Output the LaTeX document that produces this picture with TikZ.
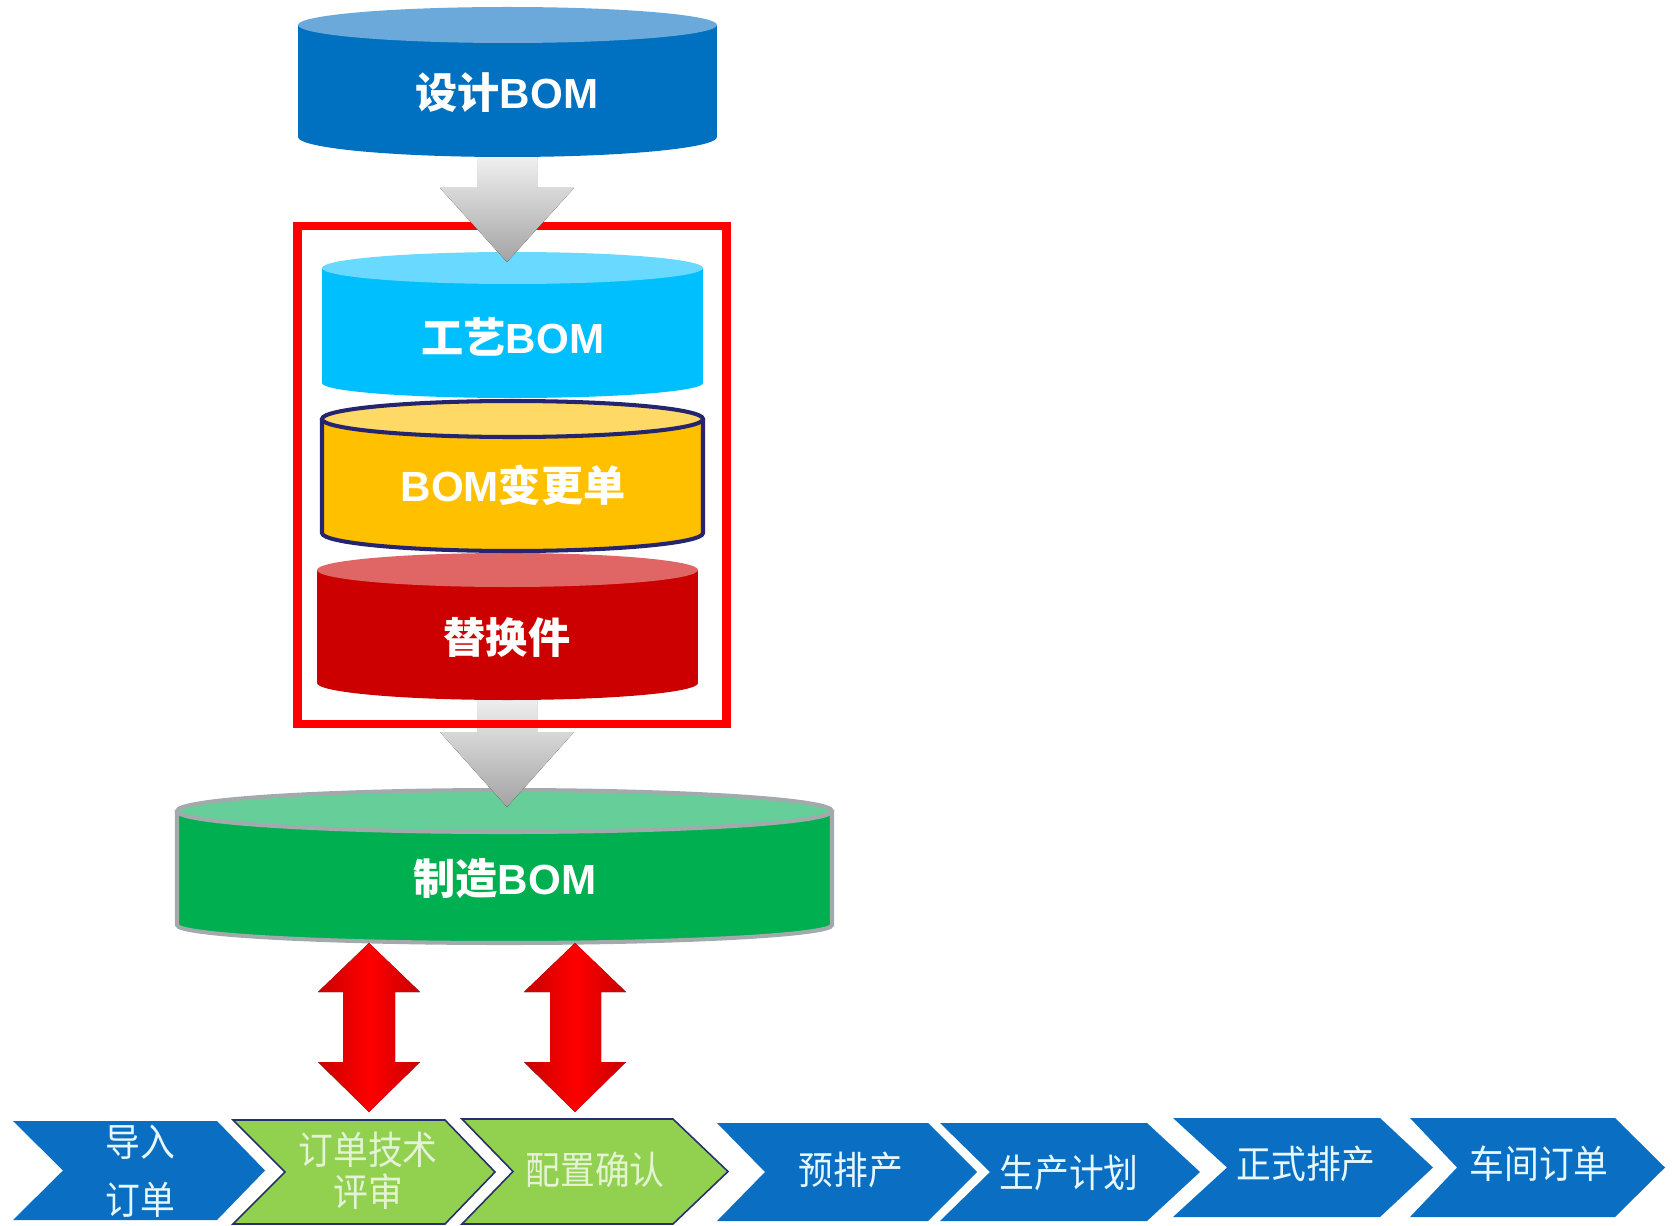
\documentclass[tikz,border=0pt]{standalone}
\usepackage{fontspec}
\setmainfont{Liberation Sans}
\newfontfamily\cjk{Noto Sans CJK SC}
\newfontfamily\cjkthin[FakeStretch=0.9]{Noto Sans CJK SC}
\usepackage{xcolor}
\definecolor{designblue}{HTML}{0070C0}
\definecolor{designtop}{HTML}{6AA9D9}
\definecolor{procblue}{HTML}{00BFFF}
\definecolor{proctop}{HTML}{6AD9FF}
\definecolor{changeyellow}{HTML}{FFC000}
\definecolor{changetop}{HTML}{FFD966}
\definecolor{changeline}{HTML}{25246E}
\definecolor{substred}{HTML}{CC0000}
\definecolor{substtop}{HTML}{E06666}
\definecolor{mfggreen}{HTML}{00B050}
\definecolor{mfgtop}{HTML}{66CF99}
\definecolor{mfgline}{HTML}{A2AAAD}
\definecolor{stepblue}{HTML}{0A6FC2}
\definecolor{stepgreen}{HTML}{92D050}
\definecolor{stepline}{HTML}{26306A}

\begin{document}
\begin{tikzpicture}[x = 0.02cm, y = -0.02cm,
		bomlabel/.style={text = white, font = \fontsize{24}{28}\selectfont\bfseries},
		steplabel/.style={text = white!90!cyan, font = \fontsize{22}{24}\selectfont\cjkthin, align = center},
		greenlabel/.style={steplabel, text = white!75!stepgreen},
		bluestep/.style={fill = stepblue},
		greenstep/.style={fill = stepgreen, draw = stepline, line width = 0.9pt},
		grayarrow/.style={top color = white!96!black, bottom color = black!36},
		redarrow/.style={left color = red!78!black, right color = red!78!black, middle color = red}
	]
	\useasboundingbox (0,0) rectangle (1672,1226);

	\fill[mfggreen] (177,811) rectangle (832,925);
	\fill[mfggreen] (504.5,925) ellipse [x radius = 327.5, y radius = 18];
	\draw[mfgline, line width = 2.3pt] (177,811) -- (177,925) arc [start angle = 180, end angle = 0, x radius = 327.5, y radius = 18] -- (832,811);
	\filldraw[fill = mfgtop, draw = mfgline, line width = 2.3pt] (504.5,811) ellipse [x radius = 327.5, y radius = 21];

	\fill[grayarrow] (477,690) -- (537,690) -- (537,732) -- (574,732) -- (507,807) -- (440,732) -- (477,732) -- cycle;

	\draw[red, line width = 4.8pt] (297.5,226) rectangle (726.5,724);

	\fill[substred] (317,570) rectangle (698,683);
	\fill[substred] (507.5,683) ellipse [x radius = 190.5, y radius = 17];
	\fill[substtop] (507.5,570) ellipse [x radius = 190.5, y radius = 17];

	\fill[changeyellow] (322,419) rectangle (703,533);
	\fill[changeyellow] (512.5,533) ellipse [x radius = 190.5, y radius = 18];
	\draw[changeline, line width = 2.3pt] (322,419) -- (322,533) arc [start angle = 180, end angle = 0, x radius = 190.5, y radius = 18] -- (703,419);
	\filldraw[fill = changetop, draw = changeline, line width = 2.3pt] (512.5,419) ellipse [x radius = 190.5, y radius = 18];

	\fill[procblue] (322,268) rectangle (703,383);
	\fill[procblue] (512.5,383) ellipse [x radius = 190.5, y radius = 15];
	\fill[proctop] (512.5,268) ellipse [x radius = 190.5, y radius = 16];

	\fill[grayarrow] (477,150) -- (537,150) -- (537,188) -- (574,188) -- (507,262) -- (440,188) -- (477,188) -- cycle;

	\fill[designblue] (298,25) rectangle (717,137);
	\fill[designblue] (507.5,137) ellipse [x radius = 209.5, y radius = 20];
	\fill[designtop] (507.5,25) ellipse [x radius = 209.5, y radius = 18];

	\fill[redarrow] (369,943) -- (420,992) -- (395,992) -- (395,1062) -- (420,1062) -- (369,1112) -- (318,1062) -- (343,1062) -- (343,992) -- (318,992) -- cycle;
	\fill[redarrow] (575,943) -- (626,992) -- (601,992) -- (601,1062) -- (626,1062) -- (575,1112) -- (524,1062) -- (550,1062) -- (550,992) -- (524,992) -- cycle;

	\fill[bluestep] (13,1121) -- (217,1121) -- (265,1170.5) -- (217,1220) -- (13,1220) -- (63,1170.5) -- cycle;
	\filldraw[greenstep] (233,1120) -- (445,1120) -- (495,1172) -- (445,1224) -- (233,1224) -- (285,1172) -- cycle;
	\filldraw[greenstep] (462,1119) -- (673,1119) -- (728,1171.5) -- (673,1224) -- (462,1224) -- (513,1171.5) -- cycle;
	\fill[bluestep] (717,1123) -- (928,1123) -- (977,1172) -- (928,1221) -- (717,1221) -- (765,1172) -- cycle;
	\fill[bluestep] (940,1123) -- (1147,1123) -- (1200,1172) -- (1147,1221) -- (940,1221) -- (990,1172) -- cycle;
	\fill[bluestep] (1173,1118) -- (1380,1118) -- (1433,1167.5) -- (1380,1217) -- (1173,1217) -- (1227,1167.5) -- cycle;
	\fill[bluestep] (1410,1118) -- (1615,1118) -- (1665,1167.5) -- (1615,1217) -- (1410,1217) -- (1457,1167.5) -- cycle;

	\node[bomlabel] (design) at (507,93) {{\cjk 设计}BOM};
	\node[bomlabel] (process) at (513,337) {{\cjk 工艺}BOM};
	\node[bomlabel] (change) at (513,485) {BOM{\cjk 变更单}};
	\node[bomlabel] (subst) at (507,637) {{\cjk 替换件}};
	\node[bomlabel] (mfg) at (505,879) {{\cjk 制造}BOM};

	\node[steplabel] (import) at (140,1171) {导入\\[9pt]订单};
	\node[greenlabel] (review) at (368,1171) {订单技术\\评审};
	\node[greenlabel] (confirm) at (595,1170) {配置确认};
	\node[steplabel] (presched) at (851,1170) {预排产};
	\node[steplabel] (plan) at (1069,1173) {生产计划};
	\node[steplabel] (formal) at (1306,1164) {正式排产};
	\node[steplabel] (workshop) at (1539,1164) {车间订单};

\end{tikzpicture}
\end{document}
